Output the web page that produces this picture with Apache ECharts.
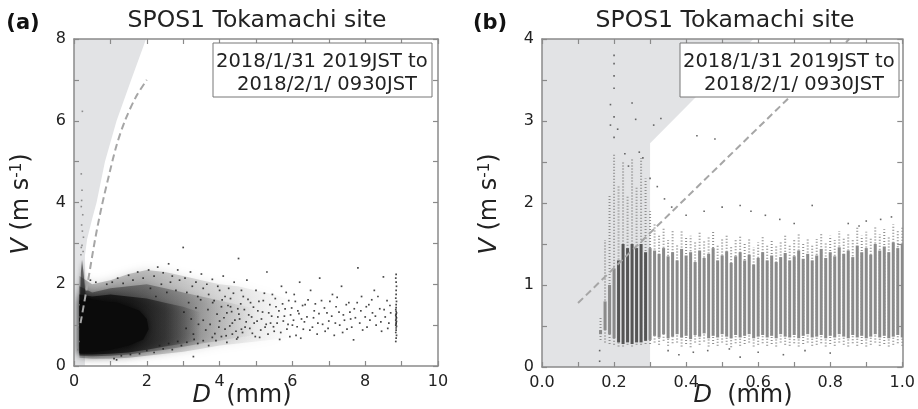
<!DOCTYPE html>
<html>
<head>
<meta charset="utf-8">
<script src="https://cdn.jsdelivr.net/npm/echarts@6/dist/echarts.min.js"></script>
<style>
html, body { margin: 0; padding: 0; background: #fff; }
#chart { width: 918px; height: 409px; }
</style>
</head>
<body>
<div id="chart"></div>
<script>
// ---------- panel (a): D 0-10 mm ----------
// grey exclusion zone outline [D, V]
const aGrey = [[0, 0], [0.3, 0], [0.3, 2.7], [0.36, 3.1], [0.5, 3.6], [0.62, 4.0], [0.85, 5.0],
  [1.17, 6.0], [1.57, 7.0], [1.98, 8.0], [0, 8]];
// dashed reference curve
const aDash = [[0.18, 1.05], [0.37, 2.0], [0.58, 3.1], [0.76, 3.9], [0.97, 4.7], [1.17, 5.4],
  [1.4, 6.0], [1.7, 6.58], [2.0, 7.0]];
// speckle envelopes, widest (faint) to narrowest (dense)
const aHalo1 = [[0.15, 2.2], [0.5, 2.0], [1.0, 2.1], [1.5, 2.25], [2.0, 2.35], [2.5, 2.3], [3.0, 2.2],
  [3.5, 2.1], [4.0, 2.0], [4.5, 1.95], [5.0, 1.85], [5.5, 1.75], [6.0, 1.6],
  [6.0, 0.7], [5.5, 0.65], [5.0, 0.6], [4.5, 0.55], [4.0, 0.5], [3.5, 0.42], [3.0, 0.35],
  [2.5, 0.3], [2.0, 0.25], [1.5, 0.2], [1.0, 0.18], [0.5, 0.18], [0.15, 0.2]];
const aHalo2 = [[0.15, 1.95], [0.5, 1.8], [1.0, 1.9], [1.5, 1.95], [2.0, 2.0], [2.5, 1.9], [3.0, 1.8],
  [3.5, 1.7], [4.0, 1.6], [4.5, 1.5], [5.0, 1.4],
  [5.0, 0.75], [4.5, 0.7], [4.0, 0.62], [3.5, 0.55], [3.0, 0.47], [2.5, 0.4], [2.0, 0.34],
  [1.5, 0.28], [1.0, 0.25], [0.5, 0.24], [0.15, 0.25]];
const aHalo3 = [[0.15, 1.75], [0.5, 1.7], [1.0, 1.75], [1.5, 1.7], [2.0, 1.65], [2.5, 1.55], [3.0, 1.45],
  [3.5, 1.3], [3.5, 0.65], [3.0, 0.55], [2.5, 0.48], [2.0, 0.4], [1.5, 0.33], [1.0, 0.3],
  [0.5, 0.28], [0.15, 0.28]];
// saturated black core and the narrow spike at small D
const aCore = [[0.15, 0.32], [0.15, 1.6], [0.4, 1.65], [0.8, 1.58], [1.2, 1.55], [1.5, 1.45], [1.8, 1.35],
  [2.0, 1.15], [2.05, 0.9], [1.9, 0.65], [1.5, 0.5], [1.0, 0.4], [0.6, 0.35], [0.3, 0.33]];
const aSpike = [[0.17, 1.6], [0.19, 2.3], [0.22, 2.6], [0.26, 2.3], [0.3, 1.9], [0.34, 1.6]];
// individual drops
const aDots = [
  [1.05, 2.05], [1.2, 2.15], [1.35, 2.02], [1.5, 2.22], [1.62, 2.1], [1.75, 2.3], [1.9, 2.15], [2.05, 2.35],
  [2.2, 2.2], [2.3, 2.42], [2.45, 2.28], [2.6, 2.5], [2.7, 2.2], [2.85, 2.35], [3.0, 2.9], [3.05, 2.15],
  [3.2, 2.3], [3.35, 2.05], [3.5, 2.25], [3.65, 2.0], [3.8, 2.12], [3.95, 1.95], [4.1, 2.2], [4.25, 1.9],
  [4.4, 2.05], [4.52, 2.63], [4.6, 1.85], [4.75, 2.1],
  [1.1, 0.18], [1.3, 0.25], [1.55, 0.28], [1.8, 0.3], [2.0, 0.38], [2.2, 0.33], [2.45, 0.42], [2.7, 0.4],
  [2.95, 0.5], [3.28, 0.23], [3.4, 0.55], [3.7, 0.5], [3.9, 0.62], [4.2, 0.58], [4.5, 0.7],
  [2.1, 1.9], [2.25, 1.7], [2.4, 2.0], [2.55, 1.8], [2.65, 2.05], [2.8, 1.85], [2.9, 2.1], [3.1, 1.8],
  [3.25, 1.95], [3.4, 1.7], [3.55, 1.9], [3.7, 1.75], [3.85, 1.6], [4.0, 1.85], [4.15, 1.7], [4.3, 1.45],
  [2.35, 0.5], [2.6, 0.55], [2.85, 0.6], [3.1, 0.58], [3.3, 0.65], [3.55, 0.62], [3.8, 0.7], [4.05, 0.72],
  [4.35, 0.78], [4.6, 0.9],
  [4.0, 1.1], [4.05, 1.45], [4.15, 0.9], [4.2, 1.3], [4.3, 1.65], [4.35, 1.05], [4.45, 0.85], [4.5, 1.4],
  [4.55, 1.15], [4.65, 1.7], [4.7, 0.95], [4.8, 1.25], [4.85, 1.55], [4.9, 0.8], [4.95, 1.05], [5.0, 1.85],
  [5.05, 1.35], [5.1, 0.7], [5.15, 1.15], [5.2, 1.6], [5.25, 0.95], [5.3, 2.3], [5.35, 1.3], [5.4, 1.05],
  [5.45, 1.75], [5.5, 0.85], [5.55, 1.45], [5.6, 1.2], [5.65, 0.65], [5.7, 1.95], [5.75, 1.1], [5.8, 1.4],
  [5.85, 0.9], [5.9, 1.6], [5.95, 1.25], [6.0, 1.0], [6.05, 1.75], [6.1, 0.75], [6.15, 1.35], [6.2, 2.05],
  [6.25, 1.15], [6.3, 0.9],
  [6.35, 1.5], [6.4, 1.2], [6.5, 1.85], [6.55, 0.95], [6.6, 1.35], [6.7, 1.05], [6.75, 2.15], [6.8, 1.6],
  [6.9, 0.85], [6.95, 1.3], [7.0, 1.1], [7.1, 1.75], [7.15, 0.75], [7.2, 1.45], [7.3, 1.0], [7.35, 1.95],
  [7.4, 1.25], [7.5, 0.9], [7.55, 1.55], [7.6, 1.15], [7.68, 0.64], [7.7, 1.4], [7.8, 2.4], [7.85, 1.05],
  [7.9, 1.7], [8.0, 1.2], [8.05, 0.95], [8.1, 1.5], [8.2, 1.3], [8.25, 1.85], [8.3, 1.0], [8.4, 1.4],
  [8.45, 0.85], [8.5, 2.18], [8.55, 1.2], [8.6, 1.6], [8.65, 1.05], [8.7, 1.3],
  [8.84, 0.6], [8.85, 0.68], [8.86, 0.75], [8.84, 0.82], [8.85, 0.88], [8.85, 0.93], [8.86, 0.97],
  [8.84, 1.0], [8.85, 1.03], [8.85, 1.06], [8.86, 1.09], [8.84, 1.12], [8.85, 1.15], [8.86, 1.18],
  [8.85, 1.21], [8.84, 1.24], [8.85, 1.27], [8.86, 1.3], [8.85, 1.34], [8.84, 1.38], [8.85, 1.43],
  [8.85, 1.5], [8.86, 1.58], [8.84, 1.66], [8.85, 1.75], [8.85, 1.85], [8.86, 1.95], [8.85, 2.05],
  [8.84, 2.15], [8.85, 2.24],
  [1.17, 0.15], [0.9, 2.0], [0.45, 2.1], [0.6, 2.05],
  [3.02, 1.32], [3.08, 0.92], [3.15, 1.55], [3.22, 1.15], [3.28, 0.78], [3.35, 1.42], [3.42, 1.02], [3.48, 1.62],
  [3.55, 1.12], [3.62, 0.88], [3.68, 1.38], [3.74, 1.02], [3.81, 1.55], [3.87, 0.79], [3.93, 1.27], [3.98, 0.95],
  [4.07, 1.62], [4.12, 1.18], [4.18, 0.74], [4.23, 1.48], [4.28, 0.98], [4.33, 1.33], [4.38, 1.78], [4.42, 1.12],
  [4.47, 0.66], [4.53, 1.27], [4.58, 1.52], [4.63, 0.82], [4.68, 1.38], [4.73, 1.08], [4.78, 1.63], [4.83, 0.92],
  [4.88, 1.2], [4.93, 1.44], [4.98, 0.72], [5.03, 1.1], [5.08, 1.58], [5.13, 0.88], [5.18, 1.32], [5.23, 1.78],
  [5.28, 1.02], [5.33, 0.78], [5.38, 1.5], [5.43, 1.22], [5.48, 0.96], [5.53, 1.65], [5.58, 1.05], [5.63, 1.35],
  [5.68, 0.82], [5.73, 1.52], [5.78, 1.22], [5.83, 1.8], [5.88, 1.02], [5.93, 0.72], [5.98, 1.42], [6.03, 1.12],
  [6.08, 1.58], [6.13, 0.96], [6.18, 1.28], [6.23, 0.68], [6.28, 1.48], [6.33, 1.08], [6.43, 1.62], [6.48, 0.88],
  [6.58, 1.18], [6.63, 1.52], [6.68, 0.78], [6.73, 1.28], [6.83, 1.02], [6.88, 1.42], [6.98, 0.92], [7.03, 1.58],
  [7.08, 1.22], [7.18, 1.05], [7.23, 1.68], [7.28, 1.32], [7.38, 0.82], [7.43, 1.12], [7.48, 1.5], [7.58, 1.32],
  [7.63, 0.95], [7.73, 1.18], [7.78, 1.55], [7.88, 1.35], [7.93, 0.88], [8.03, 1.45], [8.13, 1.12], [8.18, 1.62],
  [8.28, 1.22], [8.35, 1.7], [8.43, 1.08], [8.52, 1.38], [8.62, 0.92], [8.68, 1.48]
];
// sparse drops inside the grey zone
const aGreyDots = [[0.2, 4.7], [0.22, 4.3], [0.21, 4.05], [0.2, 3.9], [0.24, 3.7], [0.21, 3.45],
  [0.26, 3.15], [0.22, 2.95], [0.25, 2.8], [0.19, 2.72], [0.23, 6.23], [0.2, 2.9], [0.23, 3.3],
  [0.12, 0.9], [0.14, 0.6], [0.13, 1.2], [0.11, 0.4], [0.14, 1.5]];

// ---------- panel (b): D 0-1 mm ----------
const bGrey = [[0, 0], [0.3, 0], [0.3, 2.73], [0.587, 4], [0, 4]];
const bDash = [[0.1, 0.78], [0.853, 4.0]];
// size classes and the velocity range of each stripe
const stripeD = [0.1625, 0.175, 0.1875, 0.2, 0.2125, 0.225, 0.2375, 0.25, 0.2625, 0.275, 0.2875, 0.3,
  0.3125, 0.325, 0.3375, 0.35, 0.3625, 0.375, 0.3875, 0.4,
  0.4125, 0.425, 0.4375, 0.45, 0.4625, 0.475, 0.4875, 0.5,
  0.5125, 0.525, 0.5375, 0.55, 0.5625, 0.575, 0.5875, 0.6,
  0.6125, 0.625, 0.6375, 0.65, 0.6625, 0.675, 0.6875, 0.7,
  0.7125, 0.725, 0.7375, 0.75, 0.7625, 0.775, 0.7875, 0.8,
  0.8125, 0.825, 0.8375, 0.85, 0.8625, 0.875, 0.8875, 0.9,
  0.9125, 0.925, 0.9375, 0.95, 0.9625, 0.975, 0.9875, 1.0];
const coreLo = [0.4, 0.45, 0.4, 0.35, 0.3, 0.28, 0.3, 0.28, 0.3, 0.3, 0.32, 0.33,
  0.38, 0.36, 0.4, 0.35, 0.37, 0.4, 0.36, 0.38,
  0.34, 0.39, 0.37, 0.41, 0.35, 0.38, 0.36, 0.4,
  0.37, 0.35, 0.39, 0.36, 0.38, 0.4, 0.35, 0.37,
  0.39, 0.36, 0.38, 0.35, 0.4, 0.37, 0.36, 0.39,
  0.35, 0.38, 0.4, 0.36, 0.37, 0.39, 0.35, 0.38,
  0.36, 0.4, 0.37, 0.35, 0.39, 0.36, 0.38, 0.35,
  0.37, 0.4, 0.36, 0.38, 0.35, 0.37, 0.39, 0.36];
const coreHi = [0.45, 0.8, 1.0, 1.2, 1.3, 1.5, 1.45, 1.5, 1.45, 1.5, 1.4, 1.45,
  1.42, 1.38, 1.45, 1.35, 1.4, 1.3, 1.44, 1.36,
  1.4, 1.28, 1.42, 1.33, 1.38, 1.45, 1.3, 1.36,
  1.41, 1.27, 1.35, 1.4, 1.3, 1.37, 1.25, 1.33,
  1.4, 1.3, 1.36, 1.28, 1.34, 1.39, 1.3, 1.35,
  1.42, 1.32, 1.38, 1.3, 1.36, 1.44, 1.33, 1.4,
  1.35, 1.46, 1.38, 1.42, 1.34, 1.48, 1.4, 1.45,
  1.37, 1.5, 1.42, 1.47, 1.4, 1.52, 1.45, 1.5];
const tailLo = [0.33, 0.3, 0.28, 0.27, 0.25, 0.25, 0.27, 0.25, 0.27, 0.27, 0.28, 0.28,
  0.3, 0.27, 0.32, 0.26, 0.29, 0.3, 0.25, 0.28,
  0.24, 0.3, 0.27, 0.31, 0.25, 0.28, 0.26, 0.3,
  0.27, 0.24, 0.29, 0.26, 0.28, 0.3, 0.25, 0.27,
  0.29, 0.26, 0.28, 0.25, 0.3, 0.27, 0.26, 0.29,
  0.25, 0.28, 0.3, 0.26, 0.27, 0.29, 0.25, 0.28,
  0.26, 0.3, 0.27, 0.25, 0.29, 0.26, 0.28, 0.25,
  0.27, 0.3, 0.26, 0.28, 0.25, 0.27, 0.29, 0.26];
const tailHi = [0.62, 1.55, 2.1, 2.6, 2.2, 2.5, 2.1, 2.55, 2.2, 2.55, 2.3, 1.9,
  1.75, 1.62, 1.7, 1.55, 1.68, 1.5, 1.66, 1.58,
  1.6, 1.52, 1.64, 1.55, 1.6, 1.66, 1.5, 1.58,
  1.62, 1.48, 1.55, 1.6, 1.5, 1.57, 1.46, 1.52,
  1.6, 1.5, 1.55, 1.48, 1.54, 1.6, 1.5, 1.55,
  1.62, 1.52, 1.58, 1.5, 1.56, 1.64, 1.53, 1.6,
  1.55, 1.66, 1.58, 1.62, 1.55, 1.7, 1.6, 1.65,
  1.58, 1.72, 1.62, 1.68, 1.6, 1.74, 1.66, 1.7];
// outliers
const bDots = [[0.2, 3.8], [0.2, 3.7], [0.2, 3.55], [0.2, 3.4], [0.19, 3.2], [0.2, 3.05], [0.19, 2.95],
  [0.2, 2.8], [0.21, 2.9], [0.25, 3.22], [0.26, 3.02], [0.33, 3.03], [0.31, 2.95], [0.43, 2.82],
  [0.48, 2.78], [0.28, 2.55], [0.27, 2.62], [0.24, 2.45], [0.23, 2.6], [0.16, 0.07], [0.16, 0.2],
  [0.3, 2.3], [0.34, 2.05], [0.36, 1.95], [0.32, 2.2], [0.55, 1.97], [0.58, 1.9], [0.5, 1.95],
  [0.75, 1.97], [0.94, 1.8], [0.97, 1.83], [0.62, 1.85], [0.4, 1.85], [0.45, 1.9], [0.66, 1.8],
  [0.7, 1.75], [0.85, 1.75], [0.88, 1.72], [0.9, 1.78], [0.38, 0.15], [0.42, 0.18], [0.55, 0.12],
  [0.6, 0.18], [0.67, 0.15], [0.73, 0.2], [0.8, 0.17], [0.46, 0.2], [0.52, 0.22], [0.35, 0.2]];

const FONT = 'DejaVu Sans';
const AXC = '#8a8a8a';

function polygon(xi, yi, pts, fill, z, blur) {
  return {
    type: 'custom', xAxisIndex: xi, yAxisIndex: yi, z: z, silent: true, clip: true,
    data: [pts[0]],
    renderItem: function (params, api) {
      const style = { fill: fill };
      if (blur) {
        style.shadowBlur = blur;
        style.shadowColor = 'rgba(0,0,0,0.6)';
      }
      return {
        type: 'polygon',
        shape: { points: pts.map(function (p) { return api.coord(p); }) },
        style: style
      };
    }
  };
}

// horizontal fade, alpha values from left to right
function fade(stops) {
  return new echarts.graphic.LinearGradient(0, 0, 1, 0, stops.map(function (s) {
    return { offset: s[0], color: 'rgba(8,8,8,' + s[1] + ')' };
  }));
}

function axis(pos, gi, min, max, interval, show, fmt) {
  return {
    type: 'value', gridIndex: gi, position: pos, min: min, max: max, interval: interval, z: 10,
    axisLine: { show: true, onZero: false, lineStyle: { color: AXC, width: 1.5 } },
    axisTick: { show: true, inside: true, length: 5, lineStyle: { color: AXC, width: 1.2 } },
    splitLine: { show: false },
    axisLabel: { show: show, formatter: fmt, color: '#222', fontFamily: FONT, fontSize: 16, margin: 8 }
  };
}

const evenInt = function (v) { return Math.round(v) % 2 === 0 ? String(Math.round(v)) : ''; };
const tenths = function (v) { const k = Math.round(v * 10); return k % 2 === 0 ? (k / 10).toFixed(1) : ''; };
const halfs = function (v) { return Math.abs(v - Math.round(v)) < 1e-6 ? String(Math.round(v)) : ''; };

const chart = echarts.init(document.getElementById('chart'));

function label(x, y, text, size, bold) {
  return {
    type: 'text', x: x, y: y, z: 100,
    style: { text: text, fontFamily: FONT, fontSize: size, fontWeight: bold ? 'bold' : 'normal',
      fill: bold ? '#111' : '#222', textAlign: 'center', textVerticalAlign: 'middle' }
  };
}

function legendBox(x, y, w, h, tx1, tx2) {
  return [
    { type: 'rect', z: 90, shape: { x: x, y: y, width: w, height: h }, style: { fill: '#fff', stroke: '#777', lineWidth: 1 } },
    { type: 'text', z: 100, x: tx1, y: y + 19, style: { text: '2018/1/31 2019JST to', fontFamily: FONT, fontSize: 19.5, fill: '#222', textAlign: 'left', textVerticalAlign: 'middle' } },
    { type: 'text', z: 100, x: tx2, y: y + 42, style: { text: '2018/2/1/ 0930JST', fontFamily: FONT, fontSize: 19.5, fill: '#222', textAlign: 'left', textVerticalAlign: 'middle' } }
  ];
}

const vRich = {
  i: { fontStyle: 'italic', fontSize: 24, fontFamily: FONT, fill: '#222' },
  n: { fontSize: 24, fontFamily: FONT, fill: '#222' },
  s: { fontSize: 15, fontFamily: FONT, fill: '#222', padding: [0, 0, 10, 0] }
};
const dRich = {
  i: { fontStyle: 'italic', fontSize: 24, fontFamily: FONT, fill: '#222' },
  n: { fontSize: 24, fontFamily: FONT, fill: '#222' }
};

const option = {
  animation: false,
  backgroundColor: '#fff',
  grid: [
    { left: 74, top: 39, width: 364, height: 327 },
    { left: 542, top: 39, width: 363, height: 328 }
  ],
  xAxis: [
    axis('bottom', 0, 0, 10, 1, true, evenInt),
    axis('top', 0, 0, 10, 1, false),
    axis('bottom', 1, 0, 1, 0.1, true, tenths),
    axis('top', 1, 0, 1, 0.1, false)
  ],
  yAxis: [
    axis('left', 0, 0, 8, 1, true, evenInt),
    axis('right', 0, 0, 8, 1, false),
    axis('left', 1, 0, 4, 0.5, true, halfs),
    axis('right', 1, 0, 4, 0.5, false)
  ],
  graphic: [
    label(23, 24, '(a)', 21, true),
    label(490, 24, '(b)', 21, true),
    label(257, 21, 'SPOS1 Tokamachi site', 23.5),
    label(725, 21, 'SPOS1 Tokamachi site', 23.5),
    { type: 'text', z: 100, x: 242, y: 396, style: { text: '{i|D}{n|  (mm)}', rich: dRich, textAlign: 'center', textVerticalAlign: 'middle' } },
    { type: 'text', z: 100, x: 743, y: 396, style: { text: '{i|D}{n|  (mm)}', rich: dRich, textAlign: 'center', textVerticalAlign: 'middle' } },
    { type: 'text', z: 100, x: 22, y: 204, rotation: Math.PI / 2, style: { text: '{i|V}{n| (m s}{s|-1}{n|)}', rich: vRich, textAlign: 'center', textVerticalAlign: 'middle' } },
    { type: 'text', z: 100, x: 490, y: 204, rotation: Math.PI / 2, style: { text: '{i|V}{n| (m s}{s|-1}{n|)}', rich: vRich, textAlign: 'center', textVerticalAlign: 'middle' } }
  ].concat(legendBox(213, 43, 219, 54, 216, 237), legendBox(680, 43, 219, 54, 683, 704)),
  series: [
    // panel (a)
    polygon(0, 0, aGrey, '#e2e3e5', 1),
    polygon(0, 0, aHalo1, fade([[0, 0.26], [0.3, 0.22], [0.6, 0.12], [1, 0]]), 2, 10),
    polygon(0, 0, aHalo2, fade([[0, 0.42], [0.3, 0.36], [0.6, 0.24], [0.8, 0.1], [1, 0]]), 2, 8),
    polygon(0, 0, aHalo3, fade([[0, 0.75], [0.4, 0.68], [0.7, 0.42], [1, 0]]), 2, 8),
    polygon(0, 0, aCore, '#0b0b0b', 3, 6),
    polygon(0, 0, aSpike, 'rgba(20,20,20,0.55)', 3, 4),
    {
      type: 'scatter', xAxisIndex: 0, yAxisIndex: 0, z: 4, silent: true, data: aDots,
      symbol: 'rect', symbolSize: 1.7, itemStyle: { color: '#1a1a1a' }
    },
    {
      type: 'scatter', xAxisIndex: 0, yAxisIndex: 0, z: 4, silent: true, data: aGreyDots,
      symbol: 'rect', symbolSize: 1.6, itemStyle: { color: '#777' }
    },
    {
      type: 'line', xAxisIndex: 0, yAxisIndex: 0, z: 5, silent: true, data: aDash, smooth: 0.3,
      showSymbol: false, symbol: 'none', lineStyle: { color: '#a6a6a6', width: 2, type: [7, 4] }
    },
    // panel (b)
    polygon(2, 2, bGrey, '#e2e3e5', 1),
    {
      type: 'custom', xAxisIndex: 2, yAxisIndex: 2, z: 3, silent: true, clip: true,
      data: stripeD.map(function (d, i) { return [d, tailLo[i], coreLo[i], coreHi[i], tailHi[i]]; }),
      encode: { x: 0, y: [1, 2, 3, 4] },
      renderItem: function (params, api) {
        const d = api.value(0);
        const t0 = api.coord([d, api.value(1)]);
        const c0 = api.coord([d, api.value(2)]);
        const c1 = api.coord([d, api.value(3)]);
        const t1 = api.coord([d, api.value(4)]);
        const dark = d > 0.205 && d < 0.3;
        return {
          type: 'group',
          children: [
            { type: 'line', shape: { x1: t0[0], y1: t0[1], x2: t1[0], y2: t1[1] },
              style: { stroke: '#8f8f8f', lineWidth: 2, lineDash: [1, 2] } },
            { type: 'line', shape: { x1: c0[0], y1: c0[1], x2: c1[0], y2: c1[1] },
              style: { stroke: dark ? '#555' : '#8a8a8a', lineWidth: 3 } }
          ]
        };
      }
    },
    {
      type: 'scatter', xAxisIndex: 2, yAxisIndex: 2, z: 4, silent: true, data: bDots,
      symbol: 'rect', symbolSize: 1.6, itemStyle: { color: '#444' }
    },
    {
      type: 'line', xAxisIndex: 2, yAxisIndex: 2, z: 5, silent: true, data: bDash,
      showSymbol: false, symbol: 'none', lineStyle: { color: '#a6a6a6', width: 2, type: [7, 4] }
    }
  ]
};

chart.setOption(option);
</script>
</body>
</html>
